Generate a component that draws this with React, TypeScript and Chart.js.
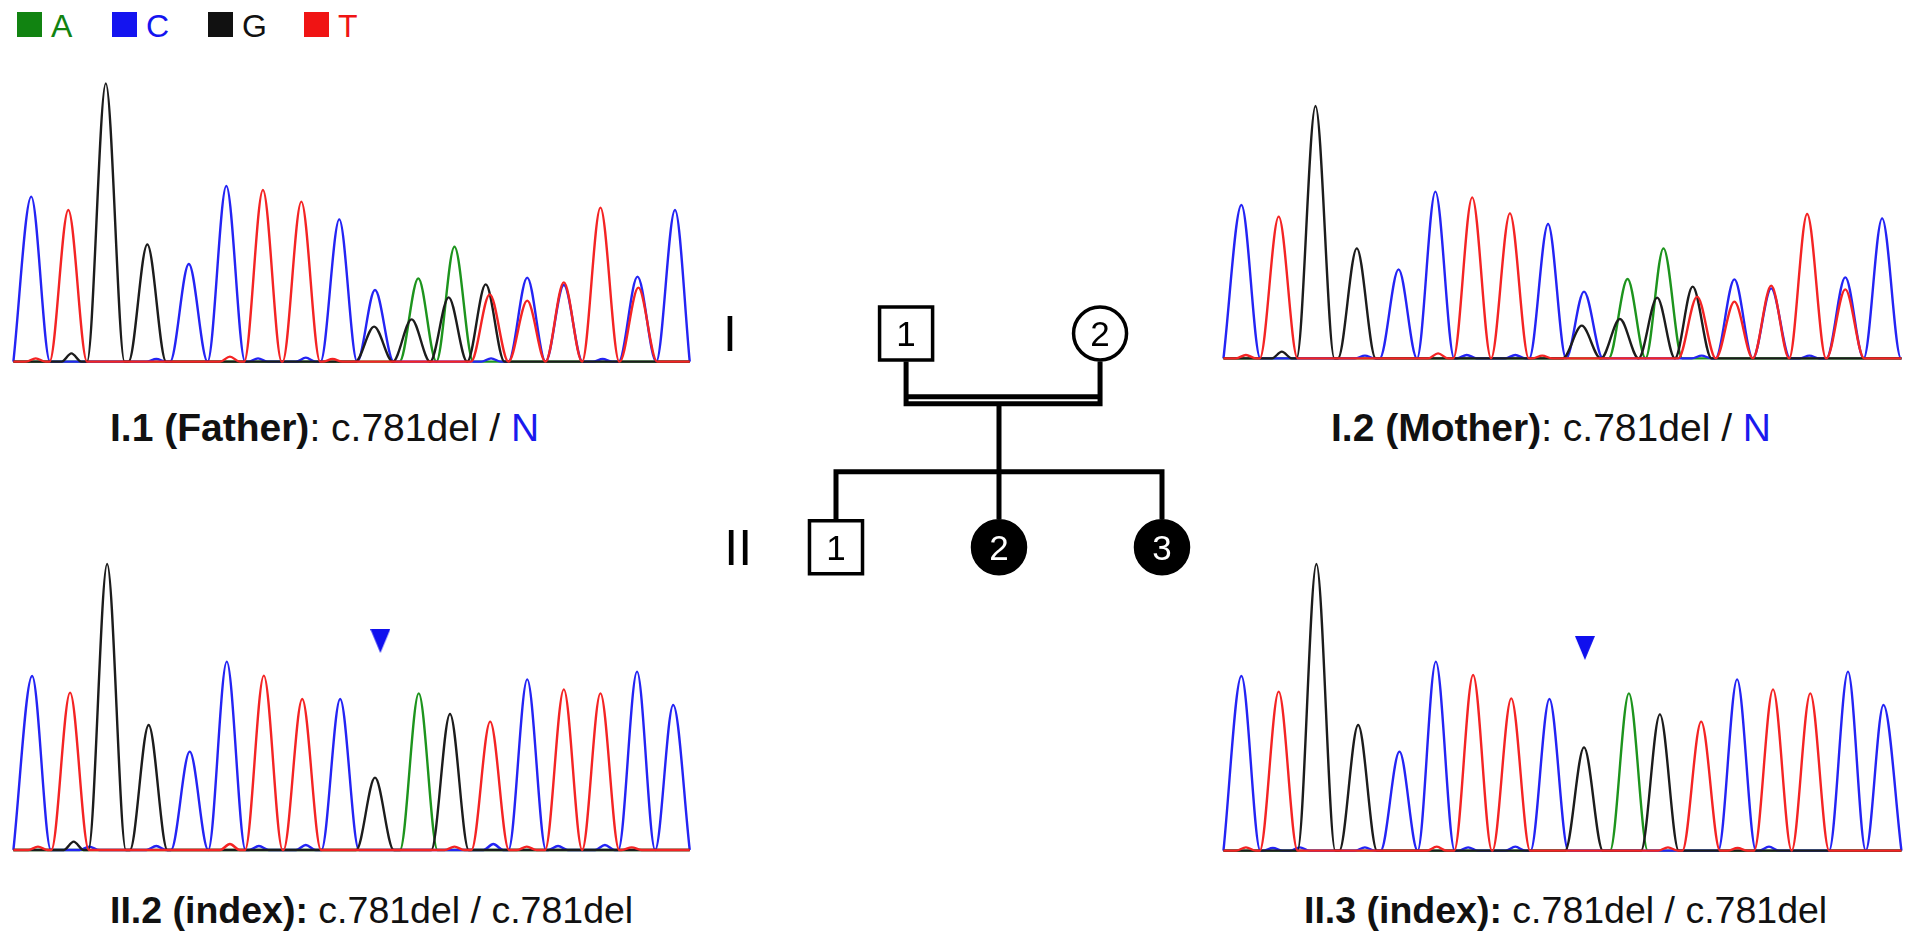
import React, { useEffect, useRef } from "react";
import { Chart, registerables } from "chart.js";
Chart.register(...registerables);

type Peak = [number, number];

// ---------- DATA ----------
const BASE_NAMES = ["A", "C", "G", "T"];
const TRACE_COLORS = ["#1d941d", "#2424f4", "#1c1c1c", "#f42424"];
const LEGEND_COLORS = ["#118311", "#1414f0", "#111111", "#f01414"];

// I.1 (Father) trace: [scan position, signal height]
const I1_A: Peak[] = [[937, 250], [1018, 345]];
const I1_C: Peak[] = [[70, 495], [350, 8], [423, 293], [507, 527], [578, 10], [685, 12], [760, 427], [840, 215], [1100, 10], [1181, 252], [1263, 230], [1350, 8], [1428, 255], [1512, 455]];
const I1_G: Peak[] = [[160, 25], [237, 835], [330, 352], [838, 105], [922, 127], [1005, 193], [1088, 232]];
const I1_T: Peak[] = [[80, 10], [153, 455], [515, 15], [589, 515], [675, 480], [745, 8], [1097, 202], [1181, 183], [1263, 238], [1345, 462], [1430, 222]];

// I.2 (Mother)
const I2_A: Peak[] = [[930, 238], [1010, 330]];
const I2_C: Peak[] = [[70, 460], [345, 8], [420, 267], [502, 500], [572, 10], [680, 10], [753, 403], [833, 200], [1095, 8], [1168, 237], [1250, 210], [1335, 8], [1415, 243], [1497, 420]];
const I2_G: Peak[] = [[160, 20], [235, 757], [327, 330], [828, 98], [913, 118], [996, 182], [1075, 215]];
const I2_T: Peak[] = [[80, 10], [153, 425], [508, 15], [584, 483], [668, 435], [740, 8], [1085, 185], [1168, 170], [1250, 218], [1330, 433], [1415, 207]];

// II.2 (index)
const II2_A: Peak[] = [[938, 470]];
const II2_C: Peak[] = [[72, 522], [200, 10], [350, 12], [425, 295], [508, 565], [580, 12], [685, 15], [762, 453], [1105, 18], [1181, 512], [1250, 12], [1355, 15], [1427, 535], [1508, 435]];
const II2_G: Peak[] = [[165, 25], [240, 858], [333, 375], [840, 217], [1008, 408]];
const II2_T: Peak[] = [[85, 10], [157, 472], [515, 18], [591, 523], [677, 453], [1018, 10], [1098, 385], [1180, 10], [1263, 482], [1345, 470], [1415, 8]];
const II2_MARK: Peak = [852, 627];

// II.3 (index)
const II3_A: Peak[] = [[933, 472]];
const II3_C: Peak[] = [[70, 524], [140, 8], [200, 10], [345, 10], [422, 297], [503, 567], [575, 10], [680, 12], [756, 455], [1174, 514], [1245, 12], [1421, 537], [1500, 437]];
const II3_G: Peak[] = [[237, 860], [330, 377], [833, 310], [1002, 409]];
const II3_T: Peak[] = [[80, 10], [153, 477], [505, 12], [586, 527], [671, 457], [1020, 10], [1094, 387], [1175, 8], [1254, 484], [1337, 472]];
const II3_MARK: Peak = [835, 608];

// Pedigree
const PED_NUM = ["1", "2", "1", "2", "3"];
const PED_X = [0.86, 3.24, 0, 2, 4];
const PED_GEN = [1, 1, 2, 2, 2];
const PED_SHAPE = ["rect", "circle", "rect", "circle", "circle"];
const PED_AFFECTED = [false, false, false, true, true];
const GEN_NAMES = ["I", "II"];
const GEN_LABEL_X = [-1.3, -1.2];
const COUPLE_LINE_Y = [1.296, 1.329];
const SIBSHIP_Y = 1.647;
const SYMBOL_HALF = 0.131;

// Labels
const LABEL_BOLD = ["I.1 (Father)", "I.2 (Mother)", "II.2 (index):", "II.3 (index):"];
const LABEL_REST = [": c.781del / ", ": c.781del / ", " c.781del / c.781del", " c.781del / c.781del"];
const LABEL_BLUE = ["N", "N", "", ""];

// ---------- STYLE ----------
const PEAK_W = 42;
const BUMP_W = 22;
const FONT = '"Liberation Sans", Arial, Helvetica, sans-serif';

function buildTrace(peaks: Peak[], xMin: number, xMax: number) {
  const pts: { x: number; y: number }[] = [{ x: xMin, y: 0 }];
  for (const [c, h] of peaks) {
    const w = h < 40 ? BUMP_W : PEAK_W;
    const left = c - w;
    const last = pts[pts.length - 1];
    if (left > last.x) {
      pts.push({ x: left, y: 0 });
    } else if (last.y === 0 && pts.length > 1) {
      const prevApex = pts[pts.length - 2];
      last.x = (prevApex.x + c) / 2;
    }
    pts.push({ x: c, y: h });
    pts.push({ x: Math.min(c + w, xMax), y: 0 });
  }
  if (pts[pts.length - 1].x < xMax) pts.push({ x: xMax, y: 0 });
  return pts;
}

function makeTriangle(w: number, h: number, color: string) {
  const c = document.createElement("canvas");
  c.width = w;
  c.height = h;
  const ctx = c.getContext("2d")!;
  ctx.fillStyle = color;
  ctx.beginPath();
  ctx.moveTo(0, 0);
  ctx.lineTo(w, 0);
  ctx.lineTo(w / 2, h);
  ctx.closePath();
  ctx.fill();
  return c;
}

type Frame = { left: number; top: number; width: number; height: number; yMin: number; yMax: number; traceEnd: number };

const BASE_OPTIONS = {
  animation: false,
  responsive: false,
  maintainAspectRatio: false,
  events: [],
  layout: { padding: 0, autoPadding: false },
  plugins: { legend: { display: false }, tooltip: { enabled: false } },
};

function Chromatogram({ frame, traces, marker }: { frame: Frame; traces: Peak[][]; marker?: Peak }) {
  const ref = useRef<HTMLCanvasElement>(null);
  useEffect(() => {
    if (!ref.current) return;
    const datasets: any[] = [];
    if (marker) {
      datasets.push({
        type: "line",
        data: [{ x: marker[0], y: marker[1] }],
        showLine: false,
        pointStyle: makeTriangle(20, 24, "#1010ee"),
        pointRadius: 12,
        borderWidth: 0,
        clip: false,
      });
    }
    // top-most first: T, G, C, A
    for (const i of [3, 2, 1, 0]) {
      datasets.push({
        type: "line",
        label: BASE_NAMES[i],
        data: buildTrace(traces[i], 30, frame.traceEnd),
        borderColor: TRACE_COLORS[i],
        borderWidth: 2.4,
        pointRadius: 0,
        cubicInterpolationMode: "monotone",
        fill: false,
      });
    }
    const chart = new Chart(ref.current, {
      type: "line",
      data: { datasets },
      options: {
        ...BASE_OPTIONS,
        scales: {
          x: { type: "linear", min: 0, max: 1568, display: false },
          y: { type: "linear", min: frame.yMin, max: frame.yMax, display: false },
        },
      },
    } as any);
    return () => chart.destroy();
  }, []);
  return (
    <canvas
      ref={ref}
      width={frame.width}
      height={frame.height}
      style={{ position: "absolute", left: frame.left, top: frame.top, width: frame.width, height: frame.height }}
    />
  );
}

function Pedigree() {
  const ref = useRef<HTMLCanvasElement>(null);
  useEffect(() => {
    if (!ref.current) return;
    const lineStyle = {
      type: "line",
      showLine: true,
      borderColor: "#000",
      borderWidth: 5,
      pointRadius: 0,
      tension: 0,
      borderJoinStyle: "miter",
      borderCapStyle: "butt",
      fill: false,
      clip: false,
    };
    const f1 = PED_X[0];
    const m1 = PED_X[1];
    const kids = PED_X.filter((_, i) => PED_GEN[i] === 2);
    const kidMin = Math.min(...kids);
    const kidMax = Math.max(...kids);
    const kidMid = (kidMin + kidMax) / 2;
    const top2 = 2 - SYMBOL_HALF;
    const bottom1 = 1 + SYMBOL_HALF;
    const datasets: any[] = [
      {
        type: "scatter",
        data: PED_X.map((x, i) => ({ x, y: PED_GEN[i] })),
        pointStyle: PED_SHAPE,
        pointRadius: PED_SHAPE.map((s) => (s === "rect" ? 37.5 : 26.5)),
        pointBackgroundColor: PED_AFFECTED.map((a) => (a ? "#000" : "#fff")),
        pointBorderColor: "#000",
        pointBorderWidth: 3.5,
        clip: false,
      },
      { ...lineStyle, data: [{ x: f1, y: bottom1 }, { x: f1, y: COUPLE_LINE_Y[1] }, { x: m1, y: COUPLE_LINE_Y[1] }, { x: m1, y: bottom1 }] },
      { ...lineStyle, data: [{ x: f1, y: COUPLE_LINE_Y[0] }, { x: m1, y: COUPLE_LINE_Y[0] }] },
      { ...lineStyle, data: [{ x: kidMid, y: COUPLE_LINE_Y[1] }, { x: kidMid, y: top2 }] },
      { ...lineStyle, data: [{ x: kidMin, y: top2 }, { x: kidMin, y: SIBSHIP_Y }, { x: kidMax, y: SIBSHIP_Y }, { x: kidMax, y: top2 }] },
    ];
    const textPlugin = {
      id: "pedText",
      afterDatasetsDraw(chart: any) {
        const ctx = chart.ctx;
        const xs = chart.scales.x;
        const ys = chart.scales.y;
        ctx.save();
        ctx.textAlign = "center";
        ctx.textBaseline = "alphabetic";
        ctx.font = `35px ${FONT}`;
        PED_NUM.forEach((n, i) => {
          ctx.fillStyle = PED_AFFECTED[i] ? "#fff" : "#000";
          ctx.fillText(n, xs.getPixelForValue(PED_X[i]), ys.getPixelForValue(PED_GEN[i]) + (0.716 * 35) / 2);
        });
        ctx.font = `50px ${FONT}`;
        ctx.fillStyle = "#000";
        GEN_NAMES.forEach((g, i) => {
          ctx.fillText(g, xs.getPixelForValue(GEN_LABEL_X[i]), ys.getPixelForValue(i + 1) + (0.716 * 50) / 2);
        });
        ctx.restore();
      },
    };
    const chart = new Chart(ref.current, {
      type: "scatter",
      data: { datasets },
      options: {
        ...BASE_OPTIONS,
        scales: {
          x: { type: "linear", min: -1.6687, max: 4.589, display: false },
          y: { type: "linear", min: 0.7964, max: 2.2471, reverse: true, display: false },
        },
      },
      plugins: [textPlugin],
    } as any);
    return () => chart.destroy();
  }, []);
  return <canvas ref={ref} width={510} height={310} style={{ position: "absolute", left: 700, top: 290, width: 510, height: 310 }} />;
}

const FRAMES: Frame[] = [
  { left: 0, top: 60, width: 700, height: 320, yMin: -55, yMax: 905, traceEnd: 1545 },
  { left: 1210, top: 80, width: 704, height: 300, yMin: -65, yMax: 835, traceEnd: 1540 },
  { left: 0, top: 540, width: 700, height: 320, yMin: -30, yMax: 930, traceEnd: 1545 },
  { left: 1210, top: 540, width: 704, height: 320, yMin: -28, yMax: 932, traceEnd: 1540 },
];
const LABEL_POS = [
  { left: 110, top: 408, size: 39 },
  { left: 1331, top: 408, size: 39 },
  { left: 110, top: 892, size: 37.5 },
  { left: 1304, top: 892, size: 37.5 },
];
const LEGEND_SQ_LEFT = [17, 112, 208, 304];

export default function App() {
  return (
    <div
      style={{
        position: "absolute",
        left: 0,
        top: 0,
        width: 1914,
        height: 939,
        overflow: "hidden",
        background: "#fff",
        fontFamily: FONT,
      }}
    >
      {BASE_NAMES.map((b, i) => (
        <React.Fragment key={b}>
          <div style={{ position: "absolute", left: LEGEND_SQ_LEFT[i], top: 12, width: 25, height: 25, background: LEGEND_COLORS[i] }} />
          <div
            style={{
              position: "absolute",
              left: LEGEND_SQ_LEFT[i] + 34,
              top: 10,
              fontSize: 32,
              lineHeight: "32px",
              color: LEGEND_COLORS[i],
            }}
          >
            {b}
          </div>
        </React.Fragment>
      ))}
      <Chromatogram frame={FRAMES[0]} traces={[I1_A, I1_C, I1_G, I1_T]} />
      <Chromatogram frame={FRAMES[1]} traces={[I2_A, I2_C, I2_G, I2_T]} />
      <Chromatogram frame={FRAMES[2]} traces={[II2_A, II2_C, II2_G, II2_T]} marker={II2_MARK} />
      <Chromatogram frame={FRAMES[3]} traces={[II3_A, II3_C, II3_G, II3_T]} marker={II3_MARK} />
      <Pedigree />
      {LABEL_BOLD.map((b, i) => (
        <div
          key={i}
          style={{
            position: "absolute",
            left: LABEL_POS[i].left,
            top: LABEL_POS[i].top,
            fontSize: LABEL_POS[i].size,
            lineHeight: `${LABEL_POS[i].size}px`,
            whiteSpace: "nowrap",
            color: "#111",
          }}
        >
          <span style={{ fontWeight: "bold" }}>{b}</span>
          <span>{LABEL_REST[i]}</span>
          {LABEL_BLUE[i] && <span style={{ color: "#1a1aee" }}>{LABEL_BLUE[i]}</span>}
        </div>
      ))}
    </div>
  );
}
